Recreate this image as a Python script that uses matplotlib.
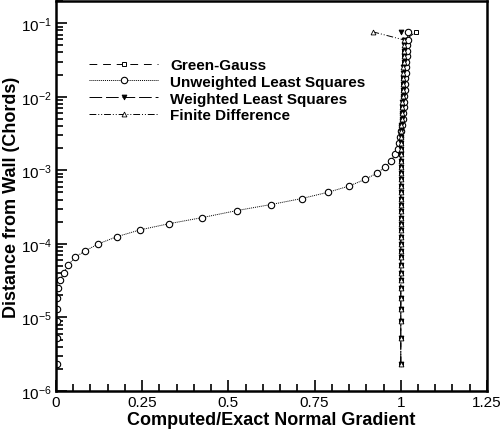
import matplotlib
matplotlib.use("Agg")
import matplotlib.pyplot as plt
from matplotlib.ticker import FixedLocator, LogLocator, NullFormatter

plt.rcParams['font.family'] = ['Liberation Sans', 'DejaVu Sans']
plt.rcParams['mathtext.fontset'] = 'custom'
plt.rcParams['mathtext.rm'] = 'Liberation Sans'
plt.rcParams['mathtext.it'] = 'Liberation Sans'

# distance from wall, shared by all four schemes
y_dist = [2.34e-6, 5.3e-6, 8.8e-6, 1.29e-5, 1.82e-5, 2.5e-5, 3.2e-5, 4.0e-5, 5.2e-5,
          6.6e-5, 8.0e-5, 1.0e-4, 1.25e-4, 1.55e-4, 1.88e-4, 2.27e-4, 2.83e-4, 3.42e-4,
          4.13e-4, 5.04e-4, 6.1e-4, 7.5e-4, 9.1e-4, 1.10e-3, 1.33e-3, 1.66e-3, 1.94e-3,
          2.35e-3, 2.85e-3, 3.4e-3, 4.1e-3, 5.0e-3, 6.0e-3, 7.2e-3, 8.6e-3, 1.03e-2,
          1.24e-2, 1.48e-2, 1.77e-2, 2.1e-2, 2.5e-2, 3.0e-2, 3.55e-2, 4.2e-2, 5.0e-2,
          5.9e-2, 7.6e-2]

green_gauss = [1.0, 1.0, 1.0, 1.0, 1.0, 1.0, 1.0, 1.0, 1.0, 1.0, 1.0, 1.0, 1.0, 1.0,
               1.0, 1.0, 1.0, 1.0, 1.0, 1.0, 1.0, 1.0, 1.0, 1.0, 1.0, 1.0, 1.001,
               1.001, 1.002, 1.002, 1.003, 1.003, 1.004, 1.004, 1.005, 1.005, 1.006,
               1.006, 1.007, 1.008, 1.008, 1.009, 1.010, 1.010, 1.011, 1.012, 1.044]

unweighted_ls = [0.002, 0.002, 0.002, 0.002, 0.003, 0.0067, 0.0125, 0.022, 0.036,
                 0.056, 0.084, 0.123, 0.176, 0.244, 0.328, 0.423, 0.524, 0.623, 0.713,
                 0.79, 0.85, 0.896, 0.93, 0.954, 0.971, 0.983, 0.991, 0.996, 0.999,
                 1.002, 1.004, 1.006, 1.007, 1.008, 1.009, 1.010, 1.011, 1.012, 1.013,
                 1.014, 1.015, 1.016, 1.017, 1.018, 1.019, 1.020, 1.020]

weighted_ls = [1.0, 1.0, 1.0, 1.0, 1.0, 1.0, 1.0, 1.0, 1.0, 1.0, 1.0, 1.0, 1.0, 1.0,
               1.0, 1.0, 1.0, 1.0, 1.0, 1.0, 1.0, 1.0, 1.0, 1.0, 1.0, 1.0, 1.0,
               1.001, 1.001, 1.002, 1.002, 1.003, 1.003, 1.004, 1.004, 1.005, 1.005,
               1.006, 1.006, 1.007, 1.007, 1.008, 1.008, 1.009, 1.009, 1.010, 1.0]

finite_diff = [1.0, 1.0, 1.0, 1.0, 1.0, 1.0, 1.0, 1.0, 1.0, 1.0, 1.0, 1.0, 1.0, 1.0,
               1.0, 1.0, 1.0, 1.0, 1.0, 1.0, 1.0, 1.0, 1.0, 1.0, 1.0, 1.0, 1.0,
               1.001, 1.001, 1.002, 1.002, 1.003, 1.003, 1.004, 1.004, 1.005, 1.005,
               1.006, 1.006, 1.007, 1.007, 1.008, 1.008, 1.009, 1.009, 1.010, 0.92]

labels = ['Green-Gauss', 'Unweighted Least Squares', 'Weighted Least Squares', 'Finite Difference']
x_ticks = [0, 0.25, 0.5, 0.75, 1.0, 1.25]
x_ticklabels = ['0', '0.25', '0.5', '0.75', '1', '1.25']

fig = plt.figure(figsize=(5.01, 4.35), dpi=100)
ax = fig.add_axes([0.1118, 0.0989, 0.8602, 0.8965])

lw = 0.7
ax.plot(green_gauss, y_dist, color='k', lw=lw, ls=(0, (8, 6)), marker='s', ms=3,
        mfc='white', mec='k', mew=0.7, label=labels[0])
ax.plot(unweighted_ls, y_dist, color='k', lw=lw, ls=(0, (1, 1)), marker='o', ms=4.6,
        mfc='white', mec='k', mew=0.8, label=labels[1])
ax.plot(weighted_ls, y_dist, color='k', lw=lw, ls=(0, (13, 4)), marker='v', ms=3.5,
        mfc='k', mec='k', mew=0.6, label=labels[2])
ax.plot(finite_diff, y_dist, color='k', lw=lw, ls=(0, (7, 2, 1, 2, 1, 2)), marker='^', ms=3.5,
        mfc='white', mec='k', mew=0.6, label=labels[3])

ax.set_yscale('log')
ax.set_xlim(0, 1.25)
ax.set_ylim(1e-6, 0.2)

ax.xaxis.set_major_locator(FixedLocator(x_ticks))
ax.set_xticklabels(x_ticklabels)
ax.xaxis.set_minor_locator(FixedLocator([i * 0.05 for i in range(26)]))
ax.yaxis.set_major_locator(LogLocator(base=10, numticks=10))
ax.yaxis.set_minor_locator(LogLocator(base=10, subs=range(2, 10), numticks=20))
ax.yaxis.set_minor_formatter(NullFormatter())

ax.tick_params(which='both', direction='in', top=False, right=False, width=1.2)
ax.tick_params(which='major', length=8, labelsize=11, pad=3)
ax.tick_params(which='minor', length=5)
for s in ax.spines.values():
    s.set_linewidth(1.8)

ax.set_xlabel('Computed/Exact Normal Gradient', fontsize=13, fontweight='bold', labelpad=1)
ax.set_ylabel('Distance from Wall (Chords)', fontsize=13, fontweight='bold', labelpad=1)

leg = ax.legend(loc='upper left', bbox_to_anchor=(0.045, 0.889), frameon=False,
                numpoints=1, handlelength=4.5, handletextpad=0.8, labelspacing=0.18,
                prop={'weight': 'bold', 'size': 11})

fig.savefig('out.png', dpi=100)
